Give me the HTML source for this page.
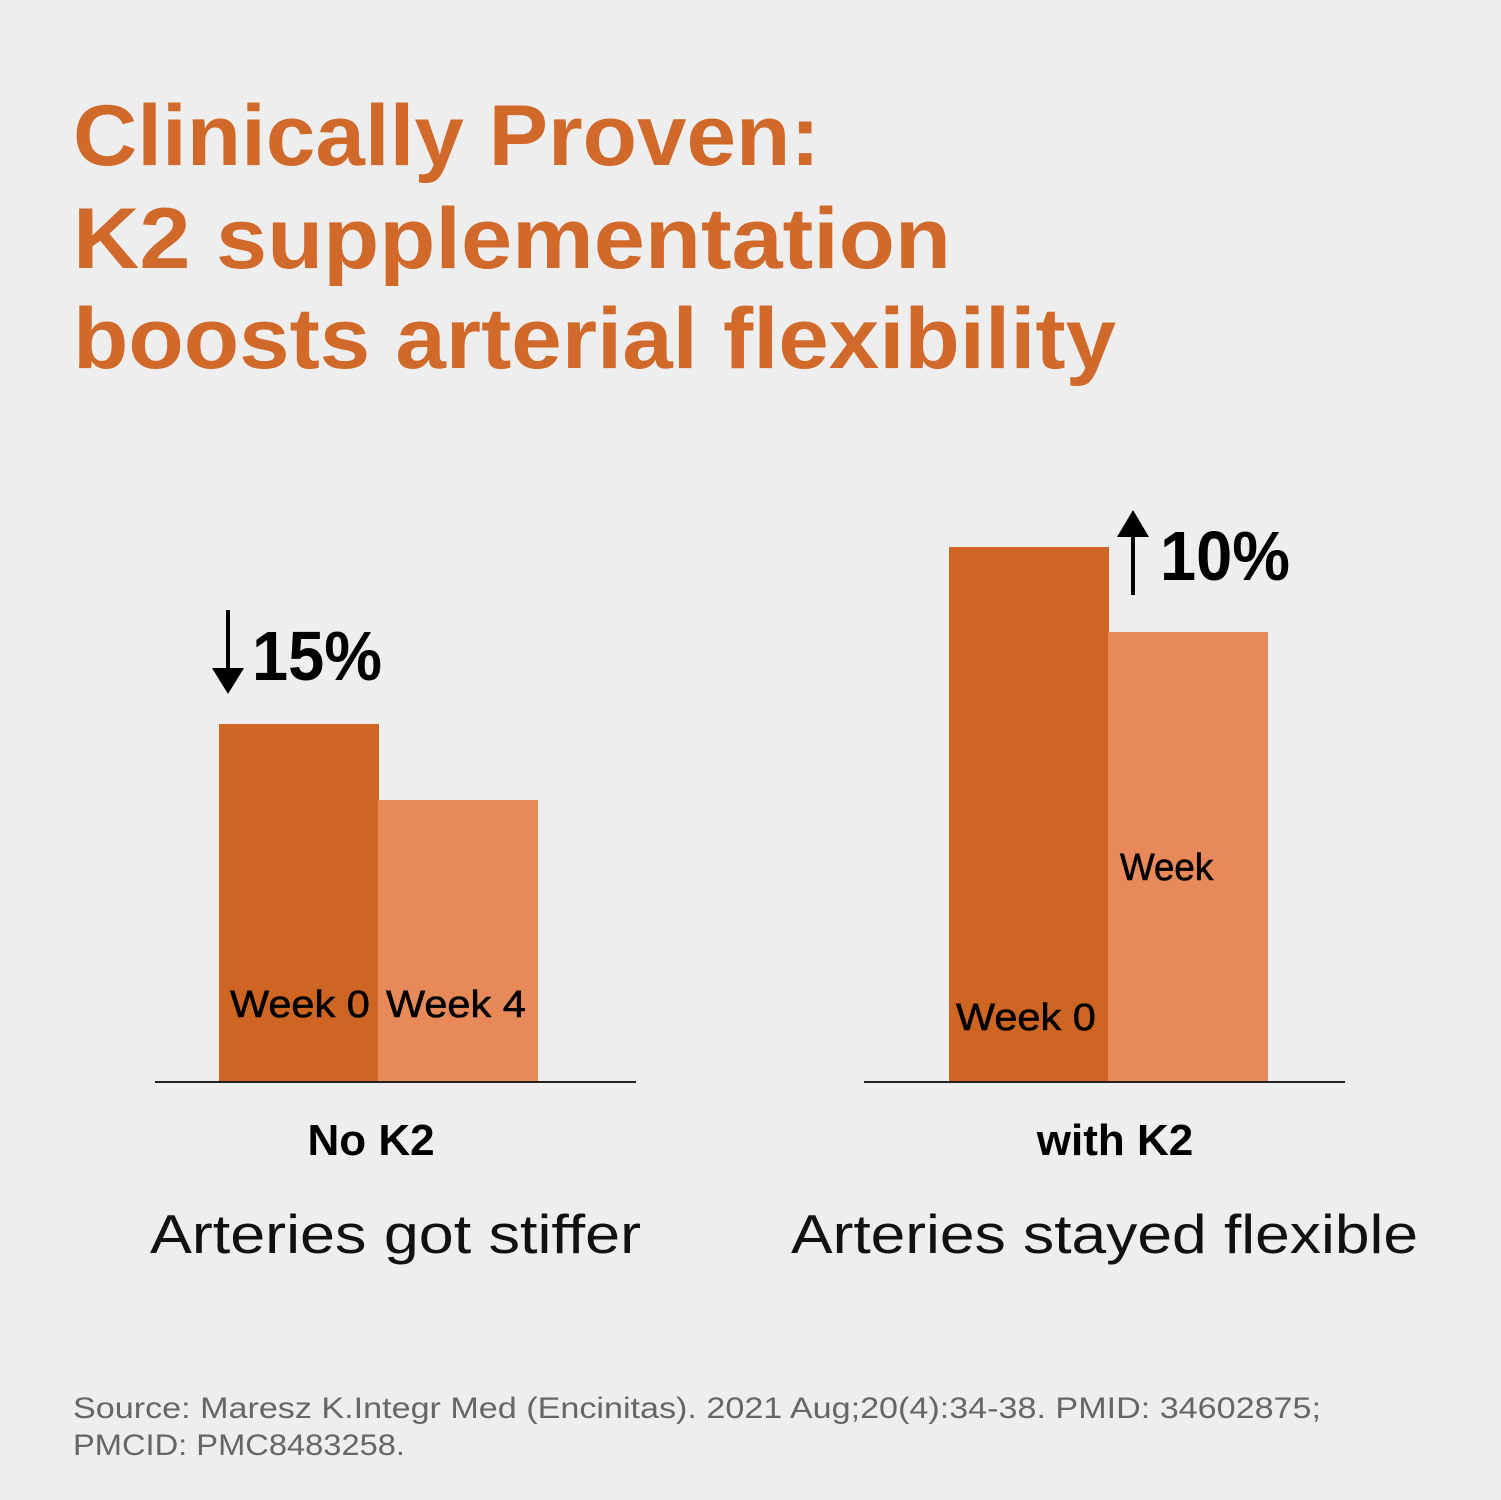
<!DOCTYPE html>
<html><head><meta charset="utf-8"><style>
html,body{margin:0;padding:0;background:#eeeeee;}
svg{display:block;font-family:"Liberation Sans",sans-serif;}
</style></head><body>
<svg id="chart" width="1501" height="1500" viewBox="0 0 1501 1500" xmlns="http://www.w3.org/2000/svg">
<rect width="1501" height="1500" fill="#eeeeee"/>
<g fill="#d0692a" font-weight="bold" font-size="86">
<text x="73" y="165" textLength="747" lengthAdjust="spacingAndGlyphs">Clinically Proven:</text>
<text x="73" y="268" textLength="878" lengthAdjust="spacingAndGlyphs">K2 supplementation</text>
<text x="73" y="368" textLength="1043" lengthAdjust="spacingAndGlyphs">boosts arterial flexibility</text>
</g>
<g id="bars"></g>
<g>
<line x1="155" y1="1082" x2="636" y2="1082" stroke="#222" stroke-width="2"/>
<line x1="864" y1="1082" x2="1345" y2="1082" stroke="#222" stroke-width="2"/>
</g>
<g fill="#000" font-weight="bold" font-size="44" text-anchor="middle">
<text x="371" y="1155">No K2</text>
<text x="1115" y="1155">with K2</text>
</g>
<g fill="#111" font-size="55">
<text x="150" y="1253" textLength="491" lengthAdjust="spacingAndGlyphs">Arteries got stiffer</text>
<text x="791" y="1253" textLength="627" lengthAdjust="spacingAndGlyphs">Arteries stayed flexible</text>
</g>
<g>
<line x1="228" y1="610" x2="228" y2="680" stroke="#000" stroke-width="4"/>
<polygon points="212,668 244,668 228,694" fill="#000"/>
<text x="252" y="680" font-size="70" font-weight="bold" textLength="130" lengthAdjust="spacingAndGlyphs">15%</text>
</g>
<g>
<line x1="1133" y1="525" x2="1133" y2="595" stroke="#000" stroke-width="4"/>
<polygon points="1117,537 1149,537 1133,510" fill="#000"/>
<text x="1160" y="580" font-size="70" font-weight="bold" textLength="130" lengthAdjust="spacingAndGlyphs">10%</text>
</g>
<g fill="#666" font-size="30">
<text x="73" y="1418" textLength="1248" lengthAdjust="spacingAndGlyphs">Source: Maresz K.Integr Med (Encinitas). 2021 Aug;20(4):34-38. PMID: 34602875;</text>
<text x="73" y="1455" textLength="332" lengthAdjust="spacingAndGlyphs">PMCID: PMC8483258.</text>
</g>
</svg>
<script>
const groups = ["No K2", "with K2"];
const week0 = [358, 535];
const week4 = [282, 450];
const barLabels0 = ["Week 0", "Week 0"];
const barLabels4 = ["Week 4", "Week"];

const NS = "http://www.w3.org/2000/svg";
const baseY = 1082;
const groupX = [219, 949];
const barW = 160;
function y(v){ return baseY - v; }
const g = document.getElementById('bars');
groups.forEach(function(name, i){
  [[week0[i], "#cf6522", barLabels0[i], 0], [week4[i], "#e8895a", barLabels4[i], 1]].forEach(function(b){
    const r = document.createElementNS(NS, 'rect');
    const x = groupX[i] + b[3] * (barW - 1);
    r.setAttribute('x', x);
    r.setAttribute('y', y(b[0]));
    r.setAttribute('width', barW);
    r.setAttribute('height', b[0]);
    r.setAttribute('fill', b[1]);
    
    
    g.appendChild(r);
    const t = document.createElementNS(NS, 'text');
    let ty, tx;
    if (i === 0) { ty = 1017; tx = x + (b[3] === 0 ? 11 : 8); }
    else { ty = b[3] === 0 ? 1030 : 880; tx = x + (b[3] === 0 ? 7 : 12); }
    t.setAttribute('x', tx);
    t.setAttribute('y', ty);
    t.setAttribute('font-size', '38');
    t.setAttribute('fill', '#000');
    t.setAttribute('stroke', '#000');
    t.setAttribute('stroke-width', '0.6');
    t.setAttribute('textLength', b[2].length * 23.3);
    t.setAttribute('lengthAdjust', 'spacingAndGlyphs');
    t.textContent = b[2];
    
    
    g.appendChild(t);
  });
});
</script>
</body></html>
